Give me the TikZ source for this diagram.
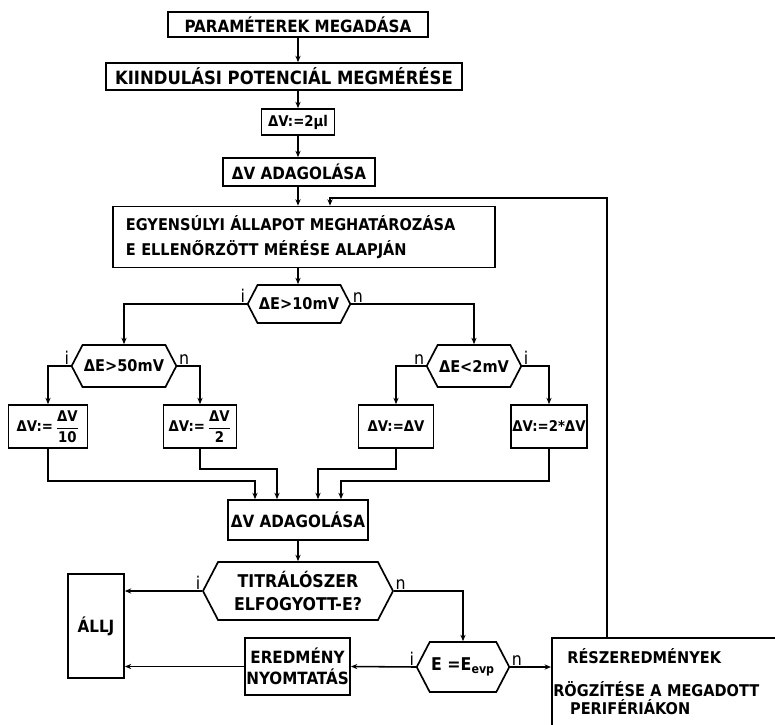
\documentclass[tikz,border=0pt]{standalone}
\usepackage{fontspec}
\setmainfont{DejaVu Sans Condensed}
\usepackage{amsmath}
\usetikzlibrary{positioning,arrows.meta,calc,shapes.symbols}
\tikzset{
  box/.style  = {draw, line width=1.2pt, inner sep=1pt, align=center,
                 font=\fontsize{12}{15}\selectfont\bfseries},
  small/.style = {font=\fontsize{10.5}{12}\selectfont\bfseries},
  dec/.style  = {draw, line width=1.2pt, signal, signal to=east and west,
                 signal pointer angle=125, inner sep=1pt, align=center,
                 font=\fontsize{11.5}{14}\selectfont\bfseries},
  flow/.style = {-{Stealth[length=1.6mm,width=1.3mm]}, line width=1.1pt},
  lbl/.style  = {font=\fontsize{12.5}{12}\selectfont, inner sep=1pt},
}
\newcommand{\dvfrac}[1]{$\dfrac{\text{ΔV}}{\text{#1}}$}
\newcommand{\yes}[2]{\node[lbl, anchor=south east] (#1) at (#2.west) {i};}
\newcommand{\no}[2]{\node[lbl, anchor=south west] (#1) at (#2.east) {n};}

\begin{document}
\begin{tikzpicture}[x=0.025cm,y=-0.025cm]
\useasboundingbox (0,0) rectangle (775,724);

% ------------------------------------------------------------------ main line
\node[box, minimum width=6.5cm, minimum height=0.625cm] (par) at (298,24.5) {PARAMÉTEREK MEGADÁSA};
\node[box, font=\fontsize{13}{15}\selectfont\bfseries, minimum width=8.9cm, minimum height=0.675cm] (kiind) at (284,76.5) {KIINDULÁSI POTENCIÁL MEGMÉRÉSE};
\node[box, small, minimum width=1.825cm, minimum height=0.65cm] (dv2) at (298,122) {ΔV:=2μl};
\node[box, minimum width=3.8cm, minimum height=0.7cm] (adag1) at (299,172) {ΔV ADAGOLÁSA};
\node[box, font=\fontsize{11.5}{14}\selectfont\bfseries, align=left, text width=8.9cm, inner xsep=0.325cm, minimum height=1.525cm] (egy) at (304,237)
  {EGYENSÚLYI ÁLLAPOT MEGHATÁROZÁSA\\[4pt] E ELLENŐRZÖTT MÉRÉSE ALAPJÁN};
\node[dec, minimum width=2.3cm, minimum height=0.95cm] (d10) at (299,304) {ΔE>10mV};

\coordinate (ax) at (298,0);
\foreach \a/\b in {par/kiind, kiind/dv2, dv2/adag1, adag1/egy, egy/d10}{\draw[flow] (ax |- \a.south) -- (ax |- \b.north);}

% ------------------------------------------------------------------ branches
\node[dec, minimum width=2.35cm, minimum height=1.05cm] (d50) at (124,366) {ΔE>50mV};
\node[dec, minimum width=2.2cm, minimum height=1.05cm] (d2) at (474,366) {ΔE<2mV};
\node[box, small, minimum width=1.975cm, minimum height=1.075cm] (b10) at (48,426.5) {ΔV:=\,\dvfrac{10}};
\node[box, small, minimum width=1.825cm, minimum height=1.075cm] (b2) at (200,426.5) {ΔV:=\,\dvfrac{2}};
\node[box, small, minimum width=1.875cm, minimum height=1.075cm] (bv) at (396,426.5) {ΔV:=ΔV};
\node[box, small, minimum width=1.8cm, minimum height=1.075cm] (b2x) at (549,426.5) {ΔV:=2*ΔV};

\yes{d10i}{d10} \no{d10n}{d10}
\yes{d50i}{d50} \no{d50n}{d50}
\node[lbl, anchor=south east] (d2n) at (d2.west) {n};
\node[lbl, anchor=south west] (d2i) at (d2.east) {i};

\draw[flow] (d10.west) -| (d50.north);
\draw[flow] (d10.east) -| (d2.north);
\draw[flow] (d50.west) -| (b10.north);
\draw[flow] (d50.east) -| (b2.north);
\draw[flow] (d2.west) -| (bv.north);
\draw[flow] (d2.east) -| (b2x.north);

% ------------------------------------------------------------------ merge
\node[box, minimum width=3.5cm, minimum height=1cm] (adag2) at (298,520) {ΔV ADAGOLÁSA};
\coordinate (in1) at ($(adag2.north)+(-43,0)$);
\coordinate (in2) at ($(adag2.north)+(-21,0)$);
\coordinate (in3) at ($(adag2.north)+(20,0)$);
\coordinate (in4) at ($(adag2.north)+(43,0)$);
\draw[flow] (b10.south) |- ($(in1)+(0,-18)$) -- (in1);
\draw[flow] (b2.south) |- ($(in2)+(0,-30)$) -- (in2);
\draw[flow] (bv.south) |- ($(in3)+(0,-30)$) -- (in3);
\draw[flow] (b2x.south) |- ($(in4)+(0,-18)$) -- (in4);

% ------------------------------------------------------------------ end
\node[dec, font=\fontsize{12.5}{15}\selectfont\bfseries, minimum width=4.75cm, minimum height=1.45cm] (titr) at (298,591) {TITRÁLÓSZER\\[2pt]ELFOGYOTT-E?};
\node[box, minimum width=1.4cm, minimum height=2.6cm] (allj) at (96,626) {ÁLLJ};
\node[box, minimum width=2.625cm, minimum height=1.425cm] (ered) at (297.5,666.5) {EREDMÉNY\\NYOMTATÁS};
\node[dec, font=\fontsize{12.5}{15}\selectfont\bfseries, minimum width=2.2cm, minimum height=1.25cm] (eevp) at (463,667) {E =E\textsubscript{evp}};
\node[box, font=\fontsize{11.5}{14}\selectfont\bfseries, anchor=north west, align=left, text width=5.6cm, minimum height=2.2cm] (resz) at (551,637)
  {\hspace*{10pt}RÉSZEREDMÉNYEK\\[9pt]RÖGZÍTÉSE A MEGADOTT\\[-1pt]\hspace*{12pt}PERIFÉRIÁKON};

\yes{titri}{titr} \no{titrn}{titr}
\yes{eevpi}{eevp} \no{eevpn}{eevp}

\draw[flow] (ax |- adag2.south) -- (ax |- titr.north);
\draw[flow] (titr.west) -- (titr.west -| allj.east);
\draw[flow] (titr.east) -| (eevp.north);
\draw[flow] (eevp.west) -- (ered.east);
\draw[flow] (ered.west) -- (ered.west -| allj.east);
\draw[flow] (eevp.east) -- (eevp.east -| resz.west);

\coordinate (fb) at (607,198);
\coordinate (fbin) at ($(egy.north)+(26,0)$);
\draw[flow] (resz.north -| fb) -- (fb) -| (fbin);

\end{tikzpicture}
\end{document}
